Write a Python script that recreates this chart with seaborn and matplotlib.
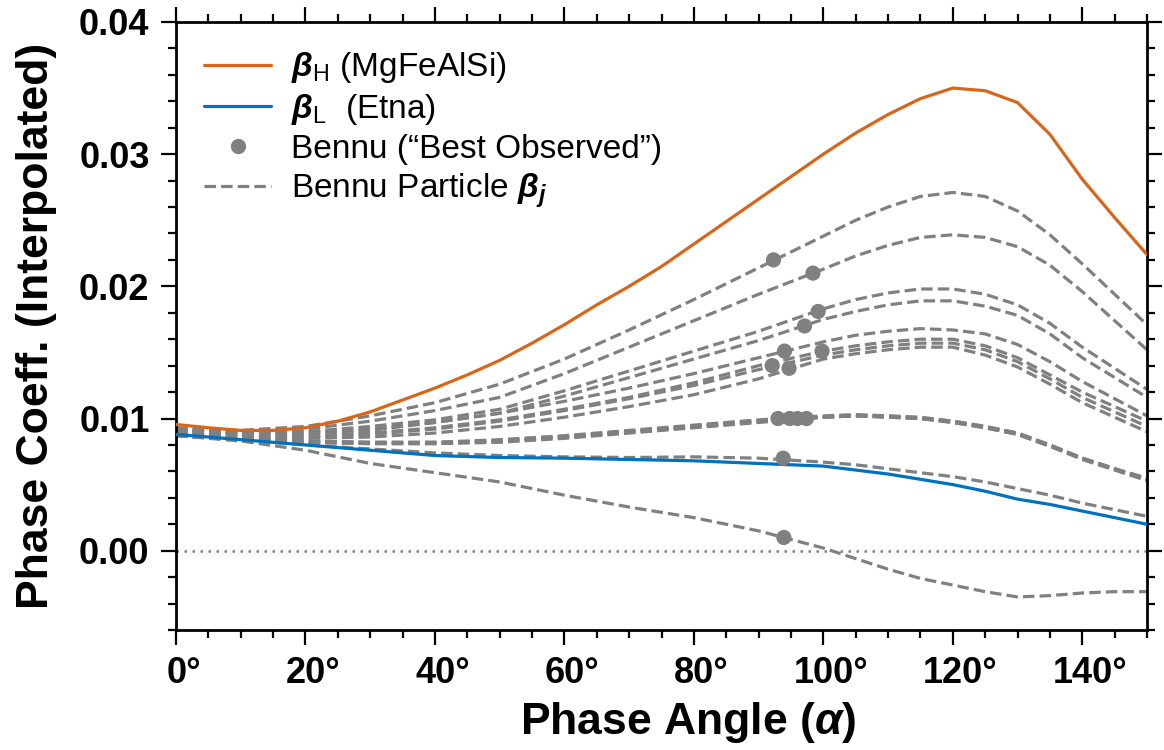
import numpy as np
import pandas as pd
import matplotlib
matplotlib.use("Agg")
import matplotlib.pyplot as plt
from matplotlib.lines import Line2D
from matplotlib.ticker import MultipleLocator, FormatStrFormatter
from matplotlib.transforms import ScaledTranslation
import seaborn as sns

# ---------------------------------------------------------------- data
# phase-angle grids (degrees)
angle_fine = list(range(0, 151, 5))
angle_grid = list(range(0, 100, 10)) + list(range(100, 151, 5))

# high-albedo end member (MgFeAlSi), sampled every 5 deg
beta_h = [0.00955, 0.0093, 0.0091, 0.0091, 0.0093, 0.0098, 0.0105, 0.0114,
          0.0123, 0.0133, 0.0144, 0.0157, 0.0171, 0.0186, 0.0200, 0.0215,
          0.0232, 0.0249, 0.0266, 0.0283, 0.0300, 0.0316, 0.0330, 0.0342,
          0.0350, 0.0348, 0.0339, 0.0315, 0.0281, 0.0252, 0.0224]

# low-albedo end member (Etna)
beta_l = [0.0088, 0.0084, 0.0080, 0.0076, 0.0072, 0.00705, 0.0070, 0.0069,
          0.0068, 0.0066, 0.0064, 0.0061, 0.0058, 0.0054, 0.0050, 0.0045,
          0.0039, 0.0035, 0.0030, 0.0025, 0.0020]

# interpolated phase coefficients of individual Bennu particles
particle_a = [0.0093, 0.0091, 0.0094, 0.0102, 0.0112, 0.0126, 0.0145, 0.0167,
              0.0190, 0.0214, 0.0238, 0.0250, 0.0260, 0.0268, 0.0271, 0.0268,
              0.0257, 0.0239, 0.0217, 0.0194, 0.0171]
particle_b = [0.0092, 0.0090, 0.0092, 0.0098, 0.0106, 0.0116, 0.0134, 0.0154,
              0.0174, 0.0194, 0.0213, 0.0223, 0.0231, 0.0237, 0.0239, 0.0237,
              0.0230, 0.0216, 0.0196, 0.0174, 0.0152]
particle_c = [0.0091, 0.0089, 0.0090, 0.0094, 0.0099, 0.0107, 0.0121, 0.0136,
              0.0151, 0.0166, 0.0183, 0.0190, 0.0195, 0.0198, 0.0198, 0.0194,
              0.0186, 0.0172, 0.0154, 0.0138, 0.0122]
particle_d = [0.0091, 0.0088, 0.0089, 0.0092, 0.0097, 0.0104, 0.0117, 0.0131,
              0.0145, 0.0159, 0.0175, 0.0181, 0.0186, 0.0189, 0.0189, 0.0185,
              0.0178, 0.0164, 0.0146, 0.0131, 0.0116]
particle_e = [0.0092, 0.0089, 0.0089, 0.0091, 0.0097, 0.0104, 0.0113, 0.0123,
              0.0134, 0.0146, 0.0158, 0.0163, 0.0166, 0.0168, 0.0167, 0.0164,
              0.0156, 0.0143, 0.0128, 0.0115, 0.0102]
particle_f = [0.0090, 0.0087, 0.0086, 0.0088, 0.0092, 0.0098, 0.0106, 0.0115,
              0.0125, 0.0137, 0.0148, 0.0152, 0.0155, 0.0157, 0.0157, 0.0152,
              0.0143, 0.0130, 0.0116, 0.0105, 0.0094]
particle_g = [0.0089, 0.0086, 0.0085, 0.0086, 0.0089, 0.0094, 0.0101, 0.0109,
              0.0118, 0.0130, 0.0145, 0.0149, 0.0152, 0.0154, 0.0154, 0.0148,
              0.0139, 0.0126, 0.0112, 0.0101, 0.0090]
particle_h = [0.0091, 0.0088, 0.0087, 0.0089, 0.0093, 0.0099, 0.0107, 0.0116,
              0.0127, 0.0140, 0.0151, 0.0155, 0.0158, 0.0160, 0.0160, 0.0155,
              0.0146, 0.0133, 0.0120, 0.0109, 0.0098]
particle_i = [0.0088, 0.0085, 0.0083, 0.0082, 0.0082, 0.0084, 0.0087, 0.0091,
              0.0095, 0.0099, 0.0102, 0.0103, 0.0102, 0.0101, 0.0098, 0.0094,
              0.0089, 0.0080, 0.0070, 0.0062, 0.0055]
particle_j = [0.0088, 0.0085, 0.0083, 0.0082, 0.0082, 0.0083, 0.0086, 0.0090,
              0.0094, 0.0098, 0.0101, 0.0102, 0.0102, 0.0100, 0.0098, 0.0094,
              0.0089, 0.0080, 0.0070, 0.0062, 0.0054]
particle_k = [0.0087, 0.0084, 0.0082, 0.0081, 0.0081, 0.0083, 0.0086, 0.0090,
              0.0094, 0.0098, 0.0101, 0.0102, 0.0101, 0.0100, 0.0097, 0.0093,
              0.0088, 0.0079, 0.0069, 0.0061, 0.0053]
particle_l = [0.0087, 0.0084, 0.0082, 0.0081, 0.0081, 0.0082, 0.0085, 0.0089,
              0.0093, 0.0097, 0.0101, 0.0102, 0.0101, 0.0100, 0.0097, 0.0093,
              0.0088, 0.0079, 0.0070, 0.0062, 0.0054]
particle_m = [0.0088, 0.0084, 0.0080, 0.0077, 0.0074, 0.0072, 0.0071, 0.00705,
              0.0071, 0.0070, 0.0067, 0.0065, 0.0062, 0.0059, 0.0056, 0.0052,
              0.0047, 0.0042, 0.0036, 0.0031, 0.0026]
particle_n = [0.0087, 0.0083, 0.0076, 0.0066, 0.0059, 0.0052, 0.0042, 0.0033,
              0.0025, 0.0015, 0.0002, -0.0006, -0.0014, -0.0021, -0.0026,
              -0.0031, -0.0035, -0.0034, -0.0032, -0.0031, -0.0031]

particles = [particle_a, particle_b, particle_c, particle_d, particle_e,
             particle_f, particle_g, particle_h, particle_i, particle_j,
             particle_k, particle_l, particle_m, particle_n]

# best-observed Bennu measurements
obs_angle = [92.3, 98.4, 99.2, 97.1, 94.0, 92.1, 94.7, 99.8,
             93.0, 94.8, 96.0, 97.4, 93.8, 93.9]
obs_beta = [0.0220, 0.0210, 0.0181, 0.0170, 0.0151, 0.0140, 0.0138, 0.0151,
            0.0100, 0.0100, 0.0100, 0.0100, 0.0070, 0.0010]

x_ticks = [0, 20, 40, 60, 80, 100, 120, 140]
x_tick_labels = ["0°", "20°", "40°", "60°", "80°", "100°", "120°", "140°"]
y_ticks = [0.00, 0.01, 0.02, 0.03, 0.04]

label_h = r"$\mathbfit{\beta}_{\mathrm{H}}$ (MgFeAlSi)"
label_l = r"$\mathbfit{\beta}_{\mathrm{L}}$  (Etna)"
label_obs = "Bennu (\u201cBest Observed\u201d)"
label_part = r"Bennu Particle $\mathbfit{\beta}_{\mathbfit{j}}$"

# ---------------------------------------------------------------- style
sns.set_style("ticks")
plt.rcParams["font.family"] = ["Liberation Sans", "DejaVu Sans"]
plt.rcParams.update({
    "mathtext.fontset": "custom",
    "mathtext.rm": "Liberation Sans",
    "mathtext.it": "Liberation Sans:italic",
    "mathtext.bf": "Liberation Sans:bold",
    "mathtext.bfit": "Liberation Sans:bold:italic",
    "text.color": "black",
    "axes.labelcolor": "black",
    "xtick.color": "black",
    "ytick.color": "black",
    "axes.edgecolor": "black",
})

ORANGE = "#D8661A"
BLUE = "#0072BD"
GRAY = "#808080"
DASH = (0, (3.6, 1.6))

fig, ax = plt.subplots(figsize=(11.64, 7.5), dpi=100)
fig.subplots_adjust(left=0.1512, right=0.9854, top=0.9707, bottom=0.16)

# zero reference
ax.axhline(0.0, color=GRAY, lw=1.8, ls=(0, (1, 2.2)), zorder=1)

# particle curves
part_df = pd.DataFrame({
    "angle": angle_grid * len(particles),
    "beta": [v for p in particles for v in p],
    "particle": np.repeat(np.arange(len(particles)), len(angle_grid)),
})
for pid, grp in part_df.groupby("particle"):
    sns.lineplot(data=grp, x="angle", y="beta", ax=ax, color=GRAY, lw=2.3,
                 linestyle=DASH, estimator=None, sort=False, zorder=2)

# end members
sns.lineplot(x=angle_fine, y=beta_h, ax=ax, color=ORANGE, lw=2.3,
             estimator=None, zorder=3)
sns.lineplot(x=angle_grid, y=beta_l, ax=ax, color=BLUE, lw=2.3,
             estimator=None, zorder=3)

# observations
sns.scatterplot(x=obs_angle, y=obs_beta, ax=ax, color=GRAY, s=120,
                edgecolor="none", zorder=4)

# ---------------------------------------------------------------- axes
ax.set_xlim(0, 150)
ax.set_ylim(-0.006, 0.04)
ax.set_xticks(x_ticks)
ax.set_xticklabels(x_tick_labels)
ax.set_yticks(y_ticks)
ax.yaxis.set_major_formatter(FormatStrFormatter("%.2f"))
ax.xaxis.set_minor_locator(MultipleLocator(5))
ax.yaxis.set_minor_locator(MultipleLocator(0.002))

for s in ax.spines.values():
    s.set_linewidth(2.0)
    s.set_color("black")
    s.set_visible(True)
ax.tick_params(which="both", direction="out", top=True, right=True,
               width=1.6, color="black")
ax.tick_params(which="major", length=11, pad=8, labelsize=26)
ax.tick_params(which="minor", length=6)

# numbers sit on their ticks, the degree sign hangs to the right
shift = ScaledTranslation(5.5 / 72, 0, fig.dpi_scale_trans)
for lab in ax.get_xticklabels():
    lab.set_fontweight("bold")
    lab.set_transform(lab.get_transform() + shift)
for lab in ax.get_yticklabels():
    lab.set_fontweight("bold")

ax.set_xlabel(r"Phase Angle ($\mathbfit{\alpha}$)", fontsize=32,
              fontweight="bold", labelpad=6)
ax.xaxis.label.set_x(0.528)
ax.set_ylabel("Phase Coeff. (Interpolated)", fontsize=32,
              fontweight="bold", labelpad=16)

handles = [
    Line2D([], [], color=ORANGE, lw=2.3),
    Line2D([], [], color=BLUE, lw=2.3),
    Line2D([], [], color=GRAY, ls="none", marker="o", markersize=11,
           markeredgecolor="none"),
    Line2D([], [], color=GRAY, lw=2.3, ls=DASH),
]
ax.legend(handles, [label_h, label_l, label_obs, label_part], loc="upper left",
          frameon=False, fontsize=24, handlelength=2.0, handletextpad=0.6,
          labelspacing=0.2, borderaxespad=0.45)

fig.savefig("out.png", dpi=100)
